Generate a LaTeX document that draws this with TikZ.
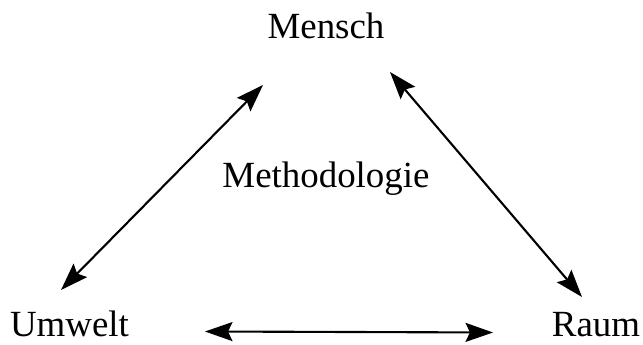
\documentclass[tikz,border=0pt]{standalone}
\usepackage{fontspec}
\setmainfont{Liberation Serif}
\usetikzlibrary{arrows.meta}
\begin{document}
\begin{tikzpicture}[
            every node/.style={font=\fontsize{21}{25}\selectfont,anchor=base,inner sep=0pt},
            link/.style={{Stealth[length=5.5mm,width=3.8mm,inset=0.9mm]}-{Stealth[length=5.5mm,width=3.8mm,inset=0.9mm]},line width=1.2pt}
            ]
            \useasboundingbox (0,0) rectangle (12.86,6.9);
            \node (mensch) at (6.52, 6.12) {Mensch};
            \node (method) at (6.52, 3.14) {Methodologie};
            \node (umwelt) at (1.39, 0.16) {Umwelt};
            \node (raum) at (11.92, 0.16) {Raum};
            \coordinate (ml) at (5.26, 5.2);
            \coordinate (ul) at (1.22, 1.1);
            \coordinate (mr) at (7.8, 5.46);
            \coordinate (rr) at (11.64, 0.96);
            \coordinate (ub) at (4.1, 0.27);
            \coordinate (rb) at (9.86, 0.25);
            \draw[link] (ml) -- (ul);
            \draw[link] (mr) -- (rr);
            \draw[link] (ub) -- (rb);
        \end{tikzpicture}
\end{document}
